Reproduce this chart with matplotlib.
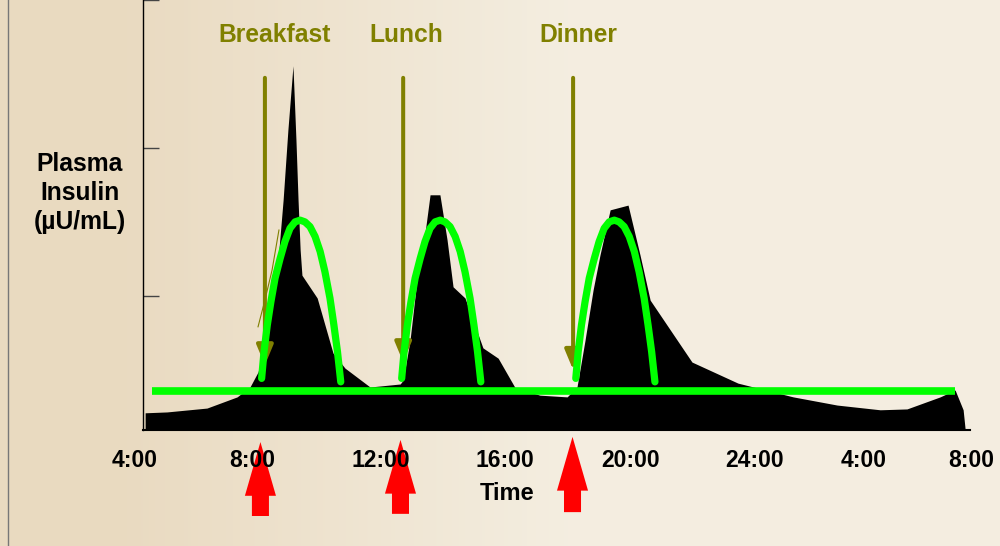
import numpy as np
import matplotlib.pyplot as plt

plt.rcParams['font.family'] = ['Liberation Sans', 'DejaVu Sans']

# temps en heures (28 = 4:00 du lendemain, 32 = 8:00 du lendemain)
insulin_t = [4.34, 5.07, 6.41, 7.42, 7.85, 8.12, 8.32, 8.59, 8.79, 8.96, 9.12, 9.29,
             9.39, 9.46, 9.53, 9.59, 10.10, 10.63, 11.03, 11.87, 12.88, 12.98, 13.21,
             13.44, 13.68, 13.88, 14.21, 14.45, 14.65, 15.05, 15.65, 16.16, 16.73,
             17.56, 18.47, 18.80, 19.07, 19.34, 19.57, 19.91, 20.51, 20.91, 21.25,
             22.65, 24.19, 26.04, 27.51, 28.95, 29.85, 30.96, 31.46, 31.73, 31.80]
insulin_v = [4.0, 4.2, 5.1, 7.7, 10.0, 13.5, 18.6, 30.2, 39.5, 53.5, 69.8, 84.7,
             67.4, 53.5, 41.9, 36.0, 30.7, 17.9, 14.4, 10.0, 10.7, 11.6, 20.9,
             34.9, 44.2, 54.7, 54.7, 44.2, 33.3, 30.7, 19.1, 16.7, 9.8,
             8.1, 7.7, 10.0, 20.9, 32.6, 40.7, 51.2, 52.3, 40.7, 30.2,
             15.8, 10.9, 7.7, 5.8, 4.7, 4.9, 7.7, 9.3, 4.7, 0.0]

# insuline basale (ligne verte horizontale)
basal_t = [4.57, 31.46]
basal_v = [9.1, 9.1]

# bolus aux repas (arcs verts)
arc_v = [12.0, 18.2, 24.4, 29.8, 35.3, 39.9, 43.8, 46.9, 48.4, 48.8,
         48.4, 47.3, 45.0, 41.5, 36.8, 30.6, 24.4, 18.2, 11.2]
breakfast_arc_t = [8.24, 8.32, 8.43, 8.55, 8.69, 8.86, 9.02, 9.19, 9.36, 9.53,
                   9.69, 9.86, 10.03, 10.20, 10.36, 10.53, 10.66, 10.78, 10.89]
lunch_arc_t = [12.93, 13.01, 13.12, 13.24, 13.38, 13.55, 13.71, 13.88, 14.05, 14.22,
               14.38, 14.55, 14.72, 14.89, 15.05, 15.22, 15.35, 15.47, 15.58]
dinner_arc_t = [18.76, 18.84, 18.95, 19.07, 19.21, 19.38, 19.54, 19.71, 19.88, 20.05,
                20.21, 20.38, 20.55, 20.72, 20.88, 21.05, 21.18, 21.30, 21.41]

# repas
meal_names = ["Breakfast", "Lunch", "Dinner"]
meal_label_t = [8.66, 13.09, 18.84]
meal_t = [8.35, 12.98, 18.67]
meal_tip_v = [15.1, 15.8, 14.0]

# injections (flèches rouges)
inject_t = [8.20, 12.89, 18.65]
inject_tip = [-2.8, -2.3, -1.6]
inject_bottom = [-20.0, -19.5, -19.1]

xtick_t = [4.0, 7.92, 12.24, 16.39, 20.61, 24.73, 28.41, 32.0]
xtick_labels = ["4:00", "8:00", "12:00", "16:00", "20:00", "24:00", "4:00", "8:00"]
yticks = [31.2, 65.6, 100]

olive = '#808000'
green = '#00FF00'

fig = plt.figure(figsize=(10, 5.46), dpi=100)

# fond parchemin
bg = fig.add_axes([0, 0, 1, 1], zorder=-1)
cols = np.linspace(0, 1, 600)
w = np.clip((cols - 0.12) / 0.45, 0, 1)[None, :, None]
c0 = np.array([0.915, 0.855, 0.755])
c1 = np.array([0.957, 0.933, 0.880])
bg.imshow(c0 * (1 - w) + c1 * w, aspect='auto', extent=[0, 1, 0, 1])
bg.axvline(0.008, color='#777777', lw=1)
bg.set_xlim(0, 1)
bg.set_ylim(0, 1)
bg.axis('off')

ax = fig.add_axes([0.143, 1 - 430 / 546, 0.827, 430 / 546])
ax.patch.set_alpha(0)

ax.fill_between(insulin_t, insulin_v, 0, color='black', linewidth=0, zorder=2)

# fine ligne olive parasite près du petit-déjeuner
ax.plot([8.12, 8.35, 8.59, 8.82], [24.0, 30.2, 37.2, 46.5], color=olive, lw=0.8, zorder=3)

for t, tip in zip(meal_t, meal_tip_v):
    ax.annotate('', xy=(t, tip), xytext=(t, 81.9),
                arrowprops=dict(arrowstyle='-|>,head_length=1.2,head_width=0.5',
                                color=olive, lw=2.9, shrinkA=0, shrinkB=0,
                                mutation_scale=10), zorder=3)

for name, t in zip(meal_names, meal_label_t):
    ax.text(t, 90.2, name, color=olive, fontsize=17.7, fontweight='bold',
            ha='center', va='baseline')

ax.plot(basal_t, basal_v, color=green, lw=5.5, solid_capstyle='butt', zorder=4)
for arc_t in [breakfast_arc_t, lunch_arc_t, dinner_arc_t]:
    ax.plot(arc_t, arc_v, color=green, lw=5.2, solid_capstyle='round',
            solid_joinstyle='round', zorder=5)

for t, tip, bot in zip(inject_t, inject_tip, inject_bottom):
    ax.arrow(t, bot, 0, tip - bot, width=0.57, head_width=1.04, head_length=12.5,
             length_includes_head=True, color='red', linewidth=0, clip_on=False)

for t, lab in zip(xtick_t, xtick_labels):
    ax.text(t, -7.0, lab, fontsize=16.5, fontweight='bold', ha='center', va='center',
            clip_on=False)
ax.text(16.46, -14.7, "Time", fontsize=17, fontweight='bold', ha='center', va='center')

fig.text(0.080, 1 - 193 / 546, "Plasma\nInsulin\n(µU/mL)", fontsize=17.7,
         fontweight='bold', ha='center', va='center', multialignment='center',
         linespacing=1.25)

ax.set_xlim(4.268, 31.96)
ax.set_ylim(0, 100)
ax.set_xticks([])
ax.set_yticks(yticks)
ax.set_yticklabels([])
ax.tick_params(axis='y', direction='in', length=11.5, width=1, colors='#444444')
ax.spines['top'].set_visible(False)
ax.spines['right'].set_visible(False)
ax.spines['left'].set_linewidth(1)
ax.spines['bottom'].set_linewidth(1.5)

plt.savefig("out.png", dpi=100)
plt.close()
